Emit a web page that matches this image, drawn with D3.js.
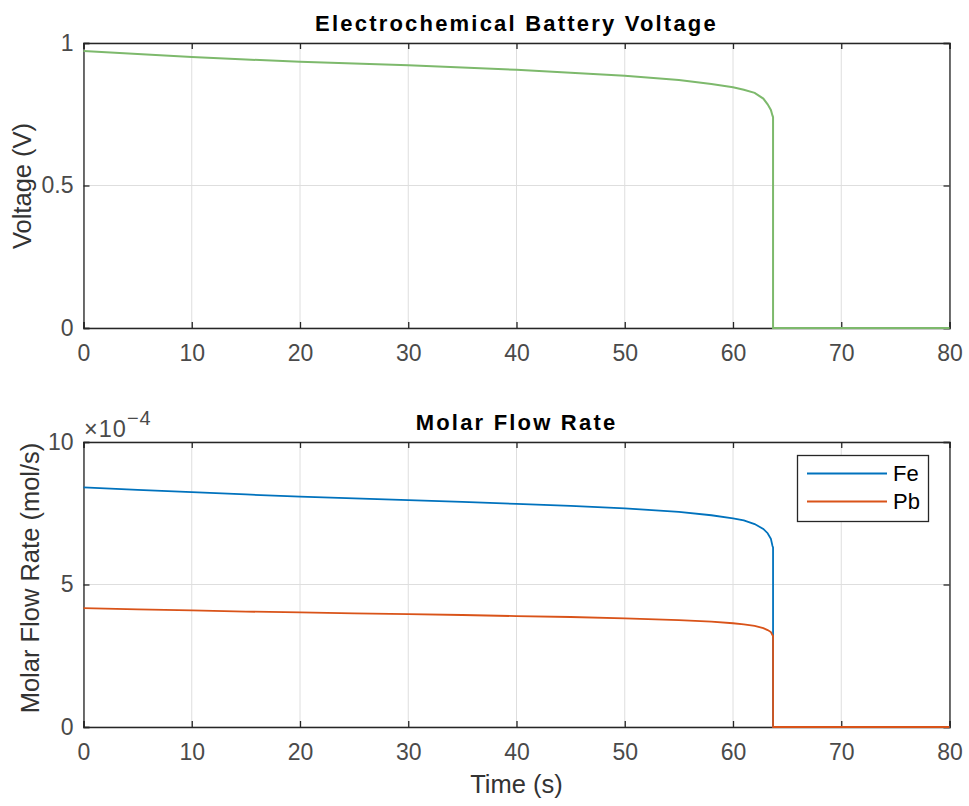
<!DOCTYPE html>
<html><head><meta charset="utf-8">
<script src="https://cdn.jsdelivr.net/npm/d3@7"></script>
<style>body{margin:0;background:#fff}svg{display:block}text{font-family:"Liberation Sans",Arial,sans-serif}</style>
</head><body><svg id="c" width="969" height="806"></svg>
<script>
const time = [0,5,10,15,20,25,30,35,40,45,50,55,58,60,61,62,62.8,63.2,63.5,63.65,63.7,63.7,80];
const voltage = [0.972,0.961,0.951,0.942,0.934,0.928,0.922,0.914,0.906,0.896,0.885,0.870,0.856,0.845,0.836,0.825,0.805,0.785,0.765,0.745,0.74,0,0];
const fe = [8.41,8.32,8.24,8.16,8.08,8.02,7.96,7.90,7.83,7.76,7.67,7.55,7.43,7.32,7.25,7.12,6.95,6.80,6.60,6.35,6.3,0,0];
const pb = [4.17,4.13,4.09,4.05,4.02,3.99,3.96,3.93,3.89,3.86,3.81,3.75,3.70,3.64,3.60,3.55,3.47,3.40,3.33,3.22,3.2,0,0];
const xTicks = [0,10,20,30,40,50,60,70,80];
const vTicks = [0,0.5,1];
const mTicks = [0,5,10];
const seriesNames = ["Fe","Pb"];
const colors = {volt:"#7db96c", fe:"#0072BD", pb:"#D95319"};

const svg = d3.select("#c");
const L = 83.5, R = 949.5;
const x = d3.scaleLinear().domain([0,80]).range([L,R]);

function panel(top, bottom, yDomain, yTicks, title, ylabel, fmt){
  const y = d3.scaleLinear().domain(yDomain).range([bottom, top]);
  const g = svg.append("g");
  g.selectAll(".gx").data(xTicks).join("line").attr("x1",d=>x(d)).attr("x2",d=>x(d)).attr("y1",top).attr("y2",bottom).attr("stroke","#dedede").attr("stroke-width",1);
  g.selectAll(".gy").data(yTicks).join("line").attr("y1",d=>y(d)).attr("y2",d=>y(d)).attr("x1",L).attr("x2",R).attr("stroke","#dedede").attr("stroke-width",1);
  const ax = d3.axisBottom(x).tickValues(xTicks).tickSize(-6).tickPadding(17).tickFormat(d3.format("d"));
  const gx = g.append("g").attr("transform",`translate(0,${bottom})`).call(ax);
  const ay = d3.axisLeft(y).tickValues(yTicks).tickSize(-6).tickPadding(10).tickFormat(fmt);
  const gy = g.append("g").attr("transform",`translate(${L},0)`).call(ay);
  const axTop = d3.axisTop(x).tickValues(xTicks).tickSize(-6).tickFormat("");
  const gt = g.append("g").attr("transform",`translate(0,${top})`).call(axTop);
  const ayR = d3.axisRight(y).tickValues(yTicks).tickSize(-6).tickFormat("");
  const gr = g.append("g").attr("transform",`translate(${R},0)`).call(ayR);
  [gx,gy,gt,gr].forEach(a=>{
    a.select(".domain").attr("stroke","#262626").attr("stroke-width",1.3);
    a.selectAll(".tick line").attr("stroke","#262626").attr("stroke-width",1.3);
    a.selectAll(".tick text").attr("fill","#4a4a4a").style("font-size","23px");
  });
  svg.append("text").attr("x",(L+R)/2).attr("y",top-12).attr("text-anchor","middle")
    .style("font-size","22px").style("font-weight","bold").style("letter-spacing","2.2px").attr("fill","#000").text(title);
  svg.append("text").attr("transform",`translate(${ylabel[1]},${ylabel[2]}) rotate(-90)`)
    .attr("text-anchor","middle").style("font-size","25.5px").attr("fill","#333").text(ylabel[0]);
  return y;
}

const yV = panel(43, 328, [0,1], vTicks, "Electrochemical Battery Voltage", ["Voltage (V)",31,186], d=>d===0.5?"0.5":d3.format("d")(d));
const yM = panel(442, 727, [0,10], mTicks, "Molar Flow Rate", ["Molar Flow Rate (mol/s)",39,578], d3.format("d"));

const pts = (arr)=>time.map((t,i)=>[t,arr[i]]);
svg.append("path").datum(pts(voltage)).attr("fill","none").attr("stroke",colors.volt).attr("stroke-width",2)
  .attr("d",d3.line().x(d=>x(d[0])).y(d=>yV(d[1])));
svg.append("path").datum(pts(fe)).attr("fill","none").attr("stroke",colors.fe).attr("stroke-width",1.8)
  .attr("d",d3.line().x(d=>x(d[0])).y(d=>yM(d[1])));
svg.append("path").datum(pts(pb)).attr("fill","none").attr("stroke",colors.pb).attr("stroke-width",1.8)
  .attr("d",d3.line().x(d=>x(d[0])).y(d=>yM(d[1])));

// exponent label
const ex = svg.append("text").attr("x",84).attr("y",437).attr("fill","#4a4a4a").style("font-size","23.5px").style("letter-spacing","1px");
ex.append("tspan").text("\u00d710");
ex.append("tspan").attr("dy",-12).style("font-size","20px").text("\u22124");

// x label
svg.append("text").attr("x",(L+R)/2).attr("y",793).attr("text-anchor","middle").style("font-size","25.5px").attr("fill","#333").text("Time (s)");

// legend
const lg = svg.append("g");
lg.append("rect").attr("x",797.5).attr("y",455.5).attr("width",131).attr("height",66).attr("fill","#fff").attr("stroke","#262626").attr("stroke-width",1.3);
const lcol = [colors.fe, colors.pb];
seriesNames.forEach((n,i)=>{
  const yy = 473.5 + i*28;
  lg.append("line").attr("x1",807).attr("x2",887).attr("y1",yy).attr("y2",yy).attr("stroke",lcol[i]).attr("stroke-width",1.8);
  lg.append("text").attr("x",893).attr("y",yy+7.5).style("font-size","22px").attr("fill","#000").text(n);
});
</script></body></html>
